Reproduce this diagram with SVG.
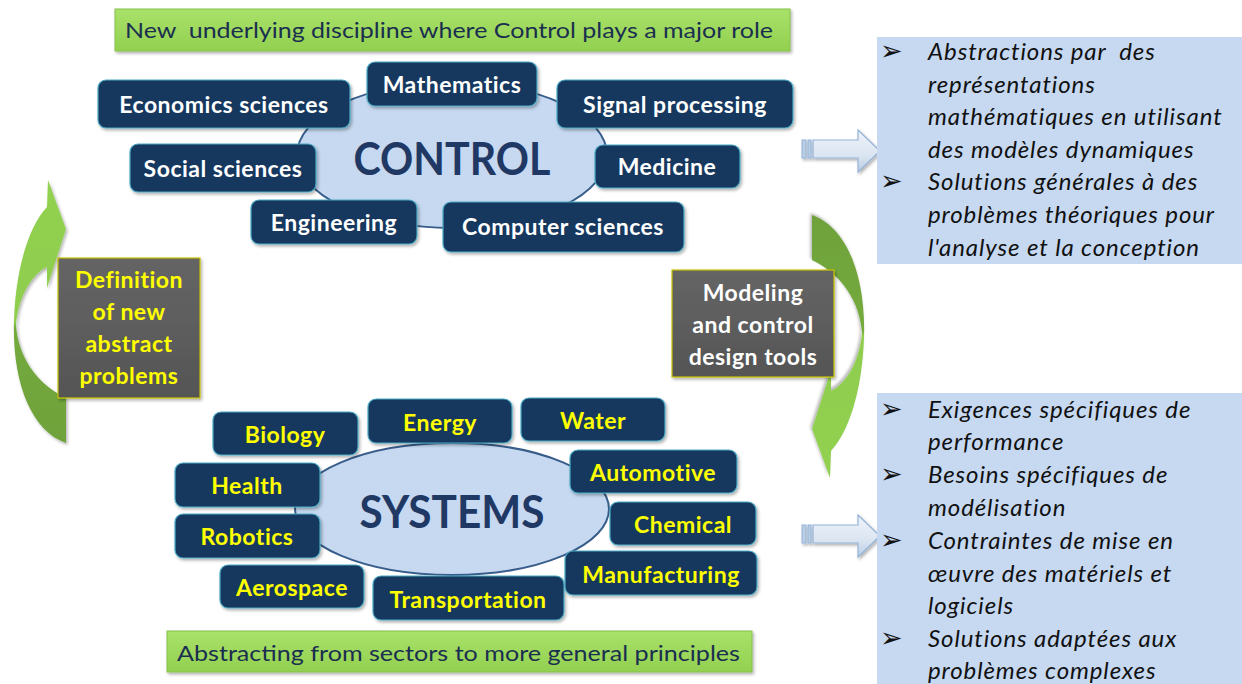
<svg xmlns="http://www.w3.org/2000/svg" width="1242" height="684" viewBox="0 0 1242 684">
<style>
  .banner { fill: url(#gBanner); stroke: #86c04a; stroke-width: 1; }
  .bannerText { font-family: Lato, "Liberation Sans", sans-serif; font-size: 22px; fill: #1a2f4f; }
  .node { fill: #17375e; stroke: #4bacc6; stroke-width: 1.2; }
  .ntW { font-family: Lato, "Liberation Sans", sans-serif; font-weight: bold; font-size: 23px; letter-spacing: 0.5px; fill: #ffffff; text-anchor: middle; }
  .ntY { font-family: Lato, "Liberation Sans", sans-serif; font-weight: bold; font-size: 23px; letter-spacing: 0.5px; fill: #ffff00; text-anchor: middle; }
  .hub { fill: #c6d9f1; stroke: #385d8a; stroke-width: 2; }
  .hubText { font-family: Lato, "Liberation Sans", sans-serif; font-weight: bold; font-size: 46px; fill: #1f3864; text-anchor: middle; }
  .gray { fill: url(#gGray); stroke: #c9c400; stroke-width: 1.2; }
  .info { fill: #c6d9f1; }
  .it { font-family: Lato, "Liberation Sans", sans-serif; font-style: italic; font-size: 24px; letter-spacing: 0.9px; fill: #111111; }
  .bul { font-family: "DejaVu Sans", sans-serif; font-size: 27px; fill: #111111; }
  .blk { fill: url(#gBlock); stroke: #95b3d7; stroke-width: 1.2; }
  .stripe { fill: #b9cde5; stroke: #95b3d7; stroke-width: 1; }
</style>
<defs>
  <linearGradient id="gBanner" x1="0" y1="0" x2="0" y2="1">
    <stop offset="0" stop-color="#a9e26a"/>
    <stop offset="1" stop-color="#92d050"/>
  </linearGradient>
  <linearGradient id="gGray" x1="0" y1="0" x2="0" y2="1">
    <stop offset="0" stop-color="#656565"/>
    <stop offset="1" stop-color="#555555"/>
  </linearGradient>
  <linearGradient id="gBlock" x1="0" y1="0" x2="0" y2="1">
    <stop offset="0" stop-color="#eef3fa"/>
    <stop offset="0.6" stop-color="#dbe5f1"/>
    <stop offset="1" stop-color="#b9cde5"/>
  </linearGradient>
  <linearGradient id="gCurve" gradientUnits="userSpaceOnUse" x1="0" y1="180" x2="0" y2="443">
    <stop offset="0" stop-color="#92d050"/>
    <stop offset="0.54" stop-color="#8fcd4f"/>
    <stop offset="0.56" stop-color="#74aa3e"/>
    <stop offset="1" stop-color="#6fa23a"/>
  </linearGradient>
  <filter id="sh" x="-10%" y="-10%" width="130%" height="140%">
    <feDropShadow dx="1.5" dy="2" stdDeviation="1.5" flood-color="#000000" flood-opacity="0.3"/>
  </filter>
  <path id="curveArrow" d="M 47,207 L 48,180 L 66,229 L 47,288 L 47,267 C 30,275 18,300 16,325 C 18,355 35,383 66,398 L 66,443 C 30,430 12,380 14,320 C 16,265 30,225 47,207 Z"/>
</defs>

<rect width="1242" height="684" fill="#ffffff"/>

<!-- Banners -->
<g id="bannerTop">
  <rect class="banner" x="115" y="9" width="675" height="42" filter="url(#sh)"/>
  <text class="bannerText" x="125" y="38" textLength="648" lengthAdjust="spacingAndGlyphs" xml:space="preserve">New  underlying discipline where Control plays a major role</text>
</g>
<g id="bannerBottom">
  <rect class="banner" x="167" y="631" width="585" height="41" filter="url(#sh)"/>
  <text class="bannerText" x="177" y="661" textLength="563" lengthAdjust="spacingAndGlyphs">Abstracting from sectors to more general principles</text>
</g>

<!-- Connectors (arrows) -->
<g id="connectors">
  <use href="#curveArrow" fill="url(#gCurve)" filter="url(#sh)"/>
  <use href="#curveArrow" fill="url(#gCurve)" filter="url(#sh)" transform="translate(878 658) rotate(180)"/>
  <g id="blockArrowTop" filter="url(#sh)">
    <rect class="stripe" x="802" y="140" width="4" height="18"/>
    <rect class="stripe" x="808" y="140" width="3" height="18"/>
    <path class="blk" d="M 813,140 L 858,140 L 858,130 L 880,151 L 858,172 L 858,158 L 813,158 Z"/>
  </g>
  <g id="blockArrowBottom" filter="url(#sh)">
    <rect class="stripe" x="802" y="525" width="4" height="18"/>
    <rect class="stripe" x="808" y="525" width="3" height="18"/>
    <path class="blk" d="M 813,525 L 858,525 L 858,515 L 880,536 L 858,557 L 858,543 L 813,543 Z"/>
  </g>
</g>

<!-- CONTROL cluster -->
<g id="control">
  <ellipse class="hub" cx="452" cy="155" rx="155" ry="73"/>
  <text class="hubText" x="452" y="175" textLength="197" lengthAdjust="spacingAndGlyphs">CONTROL</text>
</g>
<g id="n-economics"><rect class="node" x="98" y="80" width="252" height="48" rx="8" filter="url(#sh)"/><text class="ntW" x="224" y="113">Economics sciences</text></g>
<g id="n-mathematics"><rect class="node" x="367" y="62" width="170" height="44" rx="8" filter="url(#sh)"/><text class="ntW" x="452" y="93">Mathematics</text></g>
<g id="n-signal"><rect class="node" x="557" y="80" width="236" height="48" rx="8" filter="url(#sh)"/><text class="ntW" x="675" y="113">Signal processing</text></g>
<g id="n-social"><rect class="node" x="130" y="144" width="186" height="48" rx="8" filter="url(#sh)"/><text class="ntW" x="223" y="177">Social sciences</text></g>
<g id="n-medicine"><rect class="node" x="595" y="145" width="145" height="43" rx="8" filter="url(#sh)"/><text class="ntW" x="667" y="175">Medicine</text></g>
<g id="n-engineering"><rect class="node" x="251" y="200" width="166" height="44" rx="8" filter="url(#sh)"/><text class="ntW" x="334" y="231">Engineering</text></g>
<g id="n-computer"><rect class="node" x="443" y="202" width="241" height="50" rx="8" filter="url(#sh)"/><text class="ntW" x="563" y="235">Computer sciences</text></g>

<!-- SYSTEMS cluster -->
<g id="systems">
  <ellipse class="hub" cx="452" cy="509" rx="157" ry="66"/>
  <text class="hubText" x="452" y="528" textLength="185" lengthAdjust="spacingAndGlyphs">SYSTEMS</text>
</g>
<g id="n-biology"><rect class="node" x="213" y="412" width="145" height="43" rx="8" filter="url(#sh)"/><text class="ntY" x="285" y="443">Biology</text></g>
<g id="n-energy"><rect class="node" x="368" y="399" width="144" height="44" rx="8" filter="url(#sh)"/><text class="ntY" x="440" y="431">Energy</text></g>
<g id="n-water"><rect class="node" x="521" y="398" width="144" height="43" rx="8" filter="url(#sh)"/><text class="ntY" x="593" y="429">Water</text></g>
<g id="n-health"><rect class="node" x="175" y="463" width="145" height="44" rx="8" filter="url(#sh)"/><text class="ntY" x="247" y="494">Health</text></g>
<g id="n-automotive"><rect class="node" x="570" y="450" width="167" height="43" rx="8" filter="url(#sh)"/><text class="ntY" x="653" y="481">Automotive</text></g>
<g id="n-robotics"><rect class="node" x="175" y="514" width="145" height="44" rx="8" filter="url(#sh)"/><text class="ntY" x="247" y="545">Robotics</text></g>
<g id="n-chemical"><rect class="node" x="610" y="502" width="146" height="43" rx="8" filter="url(#sh)"/><text class="ntY" x="683" y="533">Chemical</text></g>
<g id="n-aerospace"><rect class="node" x="220" y="565" width="144" height="43" rx="8" filter="url(#sh)"/><text class="ntY" x="292" y="596">Aerospace</text></g>
<g id="n-transportation"><rect class="node" x="373" y="576" width="191" height="44" rx="8" filter="url(#sh)"/><text class="ntY" x="468" y="608">Transportation</text></g>
<g id="n-manufacturing"><rect class="node" x="565" y="551" width="192" height="44" rx="8" filter="url(#sh)"/><text class="ntY" x="661" y="583">Manufacturing</text></g>

<!-- Gray label boxes -->
<g id="definition">
  <rect class="gray" x="58" y="258" width="142" height="140" filter="url(#sh)"/>
  <text class="ntY" x="129" y="288">Definition</text>
  <text class="ntY" x="129" y="320">of new</text>
  <text class="ntY" x="129" y="352">abstract</text>
  <text class="ntY" x="129" y="384">problems</text>
</g>
<g id="modeling">
  <rect class="gray" x="672" y="270" width="162" height="107" filter="url(#sh)"/>
  <text class="ntW" x="753" y="301">Modeling</text>
  <text class="ntW" x="753" y="333">and control</text>
  <text class="ntW" x="753" y="365">design tools</text>
</g>

<!-- Info boxes -->
<g id="infoTop">
  <rect class="info" x="877" y="37" width="365" height="227"/>
  <text class="bul" x="880" y="60">➢</text>
  <text class="it" x="928" y="60" xml:space="preserve">Abstractions par  des</text>
  <text class="it" x="928" y="93">représentations</text>
  <text class="it" x="928" y="125">mathématiques en utilisant</text>
  <text class="it" x="928" y="158">des modèles dynamiques</text>
  <text class="bul" x="880" y="190">➢</text>
  <text class="it" x="928" y="190">Solutions générales à des</text>
  <text class="it" x="928" y="223">problèmes théoriques pour</text>
  <text class="it" x="928" y="256">l'analyse et la conception</text>
</g>
<g id="infoBottom">
  <rect class="info" x="877" y="393" width="365" height="291"/>
  <text class="bul" x="880" y="418">➢</text>
  <text class="it" x="928" y="418">Exigences spécifiques de</text>
  <text class="it" x="928" y="450">performance</text>
  <text class="bul" x="880" y="483">➢</text>
  <text class="it" x="928" y="483">Besoins spécifiques de</text>
  <text class="it" x="928" y="516">modélisation</text>
  <text class="bul" x="880" y="549">➢</text>
  <text class="it" x="928" y="549">Contraintes de mise en</text>
  <text class="it" x="928" y="582">œuvre des matériels et</text>
  <text class="it" x="928" y="614">logiciels</text>
  <text class="bul" x="880" y="647">➢</text>
  <text class="it" x="928" y="647">Solutions adaptées aux</text>
  <text class="it" x="928" y="679">problèmes complexes</text>
</g>
</svg>
